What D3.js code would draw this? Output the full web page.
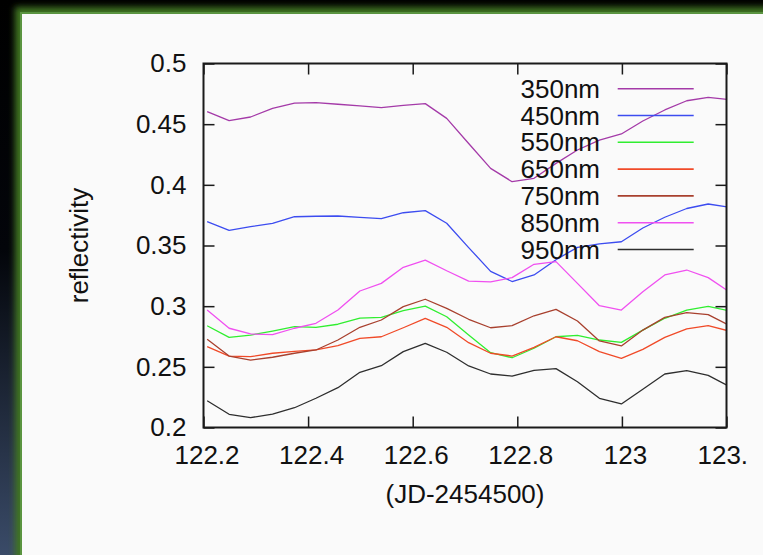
<!DOCTYPE html>
<html>
<head>
<meta charset="utf-8">
<script src="https://cdn.jsdelivr.net/npm/d3@7"></script>
<style>
    body { margin: 0; background: #000; overflow: hidden; }
    text { font-family: "Liberation Sans", Arial, Helvetica, sans-serif; fill: #111; }
    .axis line { stroke: #1a1a1a; stroke-width: 1.5; }
    .axis text { font-size: 26px; }
</style>
</head>
<body>
<div id="chartArea"></div>
<script>
// data (JD-2454500), one sample per hour
var times = [122.207, 122.249, 122.290, 122.332, 122.374, 122.415, 122.457, 122.499, 122.540,
    122.582, 122.624, 122.665, 122.707, 122.749, 122.790, 122.832, 122.874, 122.915, 122.957,
    122.999, 123.040, 123.082, 123.124, 123.165, 123.207];

var r350 = [0.4603, 0.4529, 0.4559, 0.4631, 0.4674, 0.4677, 0.4664, 0.4650, 0.4636, 0.4655, 0.4669, 0.4548,
    0.4341, 0.4136, 0.4026, 0.4054, 0.4177, 0.4287, 0.4369, 0.4419, 0.4526, 0.4617, 0.4693, 0.4721, 0.4702];
var r450 = [0.3696, 0.3625, 0.3655, 0.3683, 0.3737, 0.3741, 0.3743, 0.3732, 0.3721, 0.3770, 0.3787, 0.3683,
    0.3483, 0.3287, 0.3203, 0.3257, 0.3383, 0.3485, 0.3514, 0.3531, 0.3644, 0.3733, 0.3805, 0.3842, 0.3815];
var r550 = [0.2839, 0.2743, 0.2762, 0.2795, 0.2831, 0.2826, 0.2851, 0.2902, 0.2908, 0.2963, 0.3001, 0.2913,
    0.2762, 0.2617, 0.2575, 0.2653, 0.2748, 0.2760, 0.2721, 0.2702, 0.2803, 0.2900, 0.2968, 0.2999, 0.2959];
var r650 = [0.2666, 0.2589, 0.2584, 0.2612, 0.2628, 0.2639, 0.2674, 0.2735, 0.2748, 0.2822, 0.2900, 0.2826,
    0.2699, 0.2612, 0.2589, 0.2661, 0.2748, 0.2715, 0.2625, 0.2570, 0.2644, 0.2743, 0.2812, 0.2839, 0.2793];
var r750 = [0.2727, 0.2589, 0.2556, 0.2579, 0.2612, 0.2639, 0.2721, 0.2826, 0.2886, 0.2996, 0.3057, 0.2982,
    0.2892, 0.2822, 0.2839, 0.2921, 0.2974, 0.2878, 0.2713, 0.2672, 0.2803, 0.2908, 0.2946, 0.2930, 0.2837];
var r850 = [0.2968, 0.2818, 0.2771, 0.2765, 0.2818, 0.2859, 0.2968, 0.3125, 0.3188, 0.3320, 0.3380, 0.3292,
    0.3207, 0.3200, 0.3235, 0.3345, 0.3367, 0.3188, 0.3004, 0.2968, 0.3119, 0.3257, 0.3298, 0.3235, 0.3113];
var r950 = [0.2221, 0.2109, 0.2081, 0.2111, 0.2163, 0.2241, 0.2328, 0.2455, 0.2509, 0.2625, 0.2694, 0.2620,
    0.2507, 0.2441, 0.2424, 0.2471, 0.2485, 0.2377, 0.2241, 0.2194, 0.2315, 0.2441, 0.2468, 0.2430, 0.2334];

var seriesNames = ["350nm", "450nm", "550nm", "650nm", "750nm", "850nm", "950nm"];
var seriesValues = [r350, r450, r550, r650, r750, r850, r950];
var seriesColors = ["#a43aa8", "#3c4cf0", "#30ee30", "#f04a28", "#a8402e", "#f050f0", "#2e2e2e"];

var xTicks = [122.2, 122.4, 122.6, 122.8, 123, 123.2];
var yTicks = [0.2, 0.25, 0.3, 0.35, 0.4, 0.45, 0.5];

// constants
const width = 763;
const height = 555;
const plot = { left: 203.5, right: 726.5, top: 63.5, bottom: 427.5 };
const tickLen = 11;

var svg = d3.select("#chartArea").append("svg")
    .attr("width", width)
    .attr("height", height);

var defs = svg.append("defs");

// slide background
var bg = defs.append("linearGradient").attr("id", "bgGrad")
    .attr("x1", 0).attr("y1", 0).attr("x2", 0).attr("y2", 1);
bg.append("stop").attr("offset", "0%").attr("stop-color", "#000000");
bg.append("stop").attr("offset", "45%").attr("stop-color", "#03050a");
bg.append("stop").attr("offset", "100%").attr("stop-color", "#3a4b68");

defs.append("filter").attr("id", "glow")
    .attr("x", "-10%").attr("y", "-10%").attr("width", "120%").attr("height", "120%")
    .append("feGaussianBlur").attr("stdDeviation", 3);

defs.append("clipPath").attr("id", "plotClip")
    .append("rect")
    .attr("x", plot.left).attr("y", plot.top)
    .attr("width", plot.right - plot.left).attr("height", plot.bottom - plot.top);

defs.append("clipPath").attr("id", "imageClip")
    .append("rect")
    .attr("x", 0).attr("y", 0).attr("width", 748).attr("height", height);

svg.append("rect").attr("width", width).attr("height", height).attr("fill", "url(#bgGrad)");

// green glow round the white panel
svg.append("rect")
    .attr("x", 15).attr("y", 7).attr("width", width + 40).attr("height", height + 40)
    .attr("fill", "#3f7424")
    .attr("filter", "url(#glow)");
svg.append("rect")
    .attr("x", 20).attr("y", 12).attr("width", width + 40).attr("height", height + 40)
    .attr("fill", "#5a9440");
svg.append("rect")
    .attr("x", 22).attr("y", 14).attr("width", width + 40).attr("height", height + 40)
    .attr("fill", "#fafafa");

// scales
var xScale = d3.scaleLinear().domain([122.2, 123.2]).range([plot.left, plot.right]);
var yScale = d3.scaleLinear().domain([0.2, 0.5]).range([plot.bottom, plot.top]);

// axes, gnuplot style: ticks inside, mirrored on all four sides
var xAxis = d3.axisBottom(xScale).tickValues(xTicks).tickSizeInner(-tickLen).tickSizeOuter(0)
    .tickPadding(18).tickFormat(d3.format("~g"));
var yAxis = d3.axisLeft(yScale).tickValues(yTicks).tickSizeInner(-tickLen).tickSizeOuter(0)
    .tickPadding(17).tickFormat(d3.format("~g"));
var xAxisTop = d3.axisTop(xScale).tickValues(xTicks).tickSizeInner(-tickLen).tickSizeOuter(0).tickFormat("");
var yAxisRight = d3.axisRight(yScale).tickValues(yTicks).tickSizeInner(-tickLen).tickSizeOuter(0).tickFormat("");

function drawAxes() {
    var gx = svg.append("g").attr("clip-path", "url(#imageClip)")
        .append("g")
        .attr("class", "x axis")
        .attr("transform", "translate(0," + plot.bottom + ")")
        .call(xAxis);
    gx.selectAll("text").attr("dx", 3);

    svg.append("g")
        .attr("class", "y axis")
        .attr("transform", "translate(" + plot.left + ",0)")
        .call(yAxis);

    svg.append("g")
        .attr("class", "axis")
        .attr("transform", "translate(0," + plot.top + ")")
        .call(xAxisTop);

    svg.append("g")
        .attr("class", "axis")
        .attr("transform", "translate(" + plot.right + ",0)")
        .call(yAxisRight);

    svg.selectAll(".axis .domain").remove();
    svg.selectAll(".axis text").attr("fill", "#111");
}

function drawLines() {
    var line = d3.line()
        .x(function (d, i) { return xScale(times[i]); })
        .y(function (d) { return yScale(d); });

    svg.append("g")
        .attr("clip-path", "url(#plotClip)")
        .selectAll("path")
        .data(seriesValues)
        .enter()
        .append("path")
        .attr("d", line)
        .attr("fill", "none")
        .attr("stroke", function (d, i) { return seriesColors[i]; })
        .attr("stroke-width", 1.3)
        .attr("stroke-linejoin", "round");
}

function drawFrame() {
    svg.append("rect")
        .attr("x", plot.left).attr("y", plot.top)
        .attr("width", plot.right - plot.left).attr("height", plot.bottom - plot.top)
        .attr("fill", "none")
        .attr("stroke", "#1a1a1a")
        .attr("stroke-width", 2);
}

function drawLegend() {
    var rowH = 26.8;
    var legend = svg.append("g").attr("class", "legend")
        .selectAll("g")
        .data(seriesNames)
        .enter()
        .append("g")
        .attr("transform", function (d, i) { return "translate(0," + (88.7 + i * rowH) + ")"; });

    legend.append("text")
        .attr("x", 600)
        .attr("dy", "0.35em")
        .attr("text-anchor", "end")
        .style("font-size", "26px")
        .text(function (d) { return d; });

    legend.append("line")
        .attr("x1", 617.7).attr("x2", 693.7)
        .attr("stroke", function (d, i) { return seriesColors[i]; })
        .attr("stroke-width", 1.6);
}

function drawLabels() {
    svg.append("text")
        .attr("transform", "translate(79," + ((plot.top + plot.bottom) / 2) + ") rotate(-90)")
        .attr("dy", "0.35em")
        .attr("text-anchor", "middle")
        .style("font-size", "26px")
        .text("reflectivity");

    svg.append("text")
        .attr("x", (plot.left + plot.right) / 2)
        .attr("y", 503)
        .attr("text-anchor", "middle")
        .style("font-size", "26px")
        .text("(JD-2454500)");
}

drawLines();
drawFrame();
drawAxes();
drawLegend();
drawLabels();
</script>
</body>
</html>
